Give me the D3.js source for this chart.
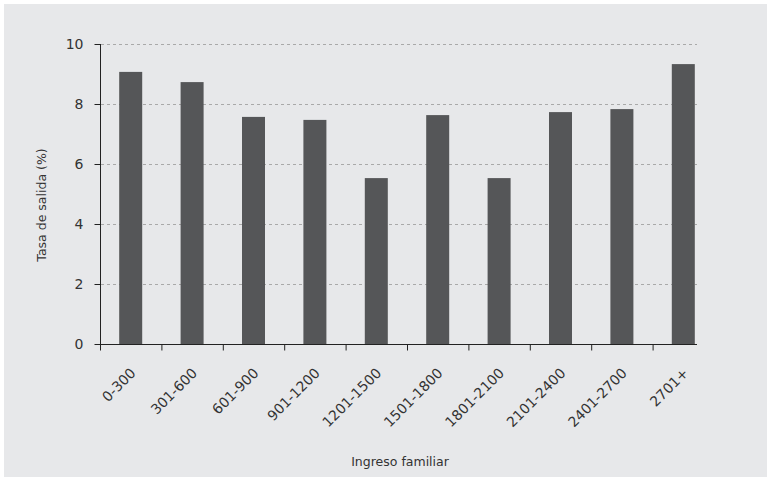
<!DOCTYPE html>
<html><head><meta charset="utf-8">
<script src="https://cdn.jsdelivr.net/npm/d3@7"></script>
<style>body{margin:0;background:#fff}svg{display:block}text{font-family:"DejaVu Sans",Arial,sans-serif;fill:#333}</style>
</head><body><svg id="c" width="767" height="479"></svg>
<script>
const categories = ["0-300","301-600","601-900","901-1200","1201-1500","1501-1800","1801-2100","2101-2400","2401-2700","2701+"];
const values = [9.07,8.73,7.57,7.47,5.53,7.63,5.53,7.73,7.83,9.33];
const yTicks = [0,2,4,6,8,10];
const yTitle = "Tasa de salida (%)";
const xTitle = "Ingreso familiar";

const FONT = "'DejaVu Sans',Arial,sans-serif";
const svg = d3.select("#c");
svg.append("rect").attr("x",4).attr("y",4).attr("width",763).attr("height",473).attr("fill","#e7e8ea");

const x = d3.scaleBand().domain(categories).range([100, 714]);
const y = d3.scaleLinear().domain([0,10]).range([344,44]);
const barW = 23;

// grid
svg.append("g").selectAll("line").data(yTicks.filter(d=>d>0)).join("line")
  .attr("x1",101).attr("x2",697).attr("y1",d=>y(d)+0.5).attr("y2",d=>y(d)+0.5)
  .attr("stroke","#a9a9a9").attr("stroke-width",1).attr("stroke-dasharray","3,3");

// bars
svg.append("g").selectAll("rect").data(values).join("rect")
  .attr("x",(d,i)=>x(categories[i])+x.bandwidth()/2-barW/2)
  .attr("width",barW)
  .attr("y",d=>y(d)).attr("height",d=>y(0)-y(d))
  .attr("fill","#555658");

// y axis
const ya = svg.append("g").attr("transform","translate(100.5,0)")
  .call(d3.axisLeft(y).tickValues(yTicks).tickSize(6).tickPadding(11));
ya.select(".domain").attr("stroke","#222").attr("d","M0,"+y(10)+"V"+(y(0)+0.5));
ya.selectAll(".tick line").attr("stroke","#222");
ya.selectAll(".tick text").attr("font-size",14).style("font-family",FONT).attr("fill","#333");

// x axis
const xa = svg.append("g").attr("transform","translate(0,344.5)")
  .call(d3.axisBottom(x).tickSize(6).tickSizeOuter(0));
xa.select(".domain").attr("stroke","#222").attr("d","M100,0H697");
xa.selectAll(".tick").attr("transform",d=>"translate("+(x(d)+0.5)+",0)");
xa.selectAll(".tick line").attr("stroke","#222");
xa.selectAll(".tick text")
  .attr("font-size",14).style("font-family",FONT).attr("fill","#333")
  .attr("text-anchor","end").attr("x",0).attr("y",0).attr("dy","0.35em")
  .attr("transform",()=>"translate("+(x.bandwidth()/2+2)+",26) rotate(-45)");

// titles
svg.append("text").attr("transform","translate(46,205) rotate(-90)").attr("text-anchor","middle")
  .attr("font-size",12.5).style("font-family",FONT).text(yTitle);
svg.append("text").attr("x",400).attr("y",466).attr("text-anchor","middle")
  .attr("font-size",12.5).style("font-family",FONT).text(xTitle);
</script></body></html>
